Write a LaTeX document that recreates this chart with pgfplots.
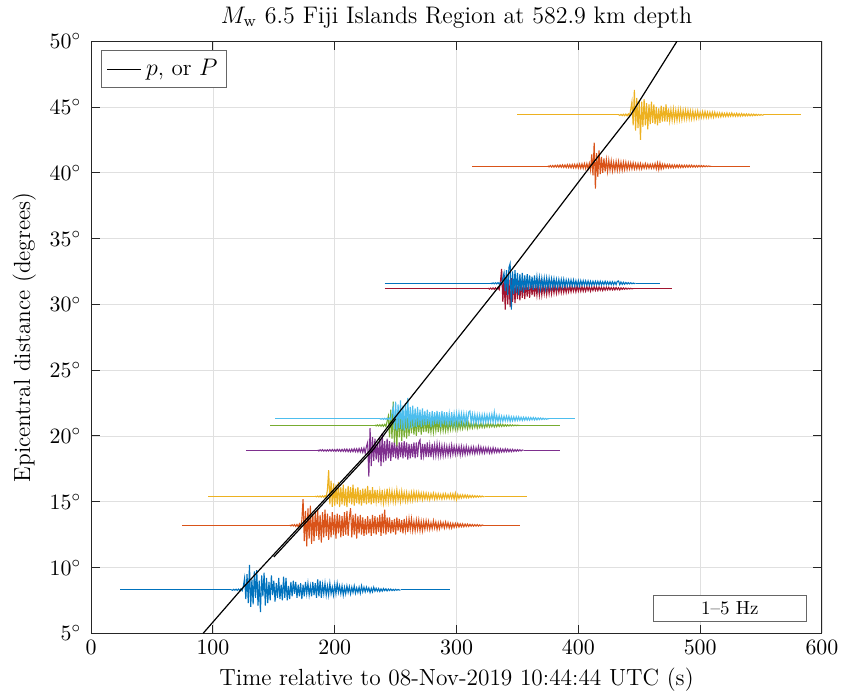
\documentclass[border=0pt]{standalone}
\usepackage{pgfplots}
\usepackage{pgfplotstable}
\pgfplotsset{compat=1.18}
\definecolor{mblue}{rgb}{0,0.447,0.741}
\definecolor{morange}{rgb}{0.850,0.325,0.098}
\definecolor{myellow}{rgb}{0.929,0.694,0.125}
\definecolor{mpurple}{rgb}{0.494,0.184,0.556}
\definecolor{mgreen}{rgb}{0.466,0.674,0.188}
\definecolor{mcyan}{rgb}{0.301,0.745,0.933}
\definecolor{mred}{rgb}{0.635,0.078,0.184}
\definecolor{axgray}{rgb}{0.15,0.15,0.15}
\pgfplotstableset{header=false, row sep=\\, col sep=comma}

% Amplitudes (degrees) sampled every 1 s; first value is 10 s before onset unless noted.
% trace A: blue, 8.3 deg, onset 125 s, table starts at 115 s
\pgfplotstableread{
0.02\\-0.03\\0.04\\-0.02\\0.05\\-0.04\\0.06\\-0.05\\0.08\\-0.06\\
0.3\\0.9\\-0.7\\1.2\\-1.0\\1.9\\-1.3\\0.8\\-1.1\\1.4\\
-0.6\\1.5\\-1.2\\0.7\\-1.7\\1.1\\-0.5\\1.3\\-1.2\\0.9\\
-1.0\\0.6\\-0.8\\1.1\\-0.4\\0.7\\-0.9\\0.5\\-0.6\\0.9\\
-0.7\\0.4\\-0.8\\1.0\\-0.6\\0.9\\-0.8\\0.3\\-0.7\\0.6\\
-0.5\\0.7\\-0.3\\0.6\\-0.6\\0.4\\-0.5\\0.5\\-0.7\\0.4\\
-0.5\\0.6\\-0.3\\0.5\\-0.4\\0.3\\-0.5\\0.6\\-0.4\\0.5\\
-0.6\\0.8\\-0.5\\0.7\\-0.6\\0.4\\-0.3\\0.5\\-0.4\\0.3\\
-0.4\\0.5\\-0.3\\0.2\\-0.4\\0.4\\-0.3\\0.5\\-0.2\\0.3\\
-0.3\\0.3\\-0.4\\0.2\\-0.3\\0.3\\-0.2\\0.25\\-0.3\\0.2\\
-0.2\\0.3\\-0.25\\0.15\\-0.2\\0.2\\-0.25\\0.3\\-0.15\\0.2\\
-0.15\\0.2\\-0.1\\0.15\\-0.2\\0.12\\-0.15\\0.2\\-0.1\\0.12\\
-0.1\\0.1\\-0.12\\0.08\\-0.1\\0.1\\-0.06\\0.08\\-0.08\\0.06\\
-0.05\\0.06\\-0.05\\0.04\\-0.05\\0.04\\-0.03\\0.03\\-0.02\\0\\
}\trA

% trace B: orange, 13.2 deg, onset 173 s, starts 163 s
\pgfplotstableread{
0.03\\-0.04\\0.05\\-0.04\\0.06\\-0.08\\0.07\\-0.1\\0.12\\-0.1\\
0.4\\2.0\\-1.2\\1.1\\-1.6\\1.3\\-1.0\\1.5\\-1.4\\0.9\\
-1.2\\1.1\\-0.8\\1.2\\-1.1\\0.8\\-1.3\\1.0\\-0.9\\1.2\\
-0.8\\0.9\\-1.1\\0.7\\-0.9\\1.0\\-0.7\\0.8\\-1.0\\0.9\\
-0.6\\0.8\\-0.9\\0.7\\-0.8\\1.0\\-0.7\\1.1\\-0.8\\0.6\\
1.3\\-0.9\\0.8\\-0.7\\0.9\\-1.0\\0.7\\-0.6\\0.8\\-0.7\\
0.6\\-0.8\\0.5\\-0.7\\0.7\\-0.6\\0.5\\-0.8\\0.8\\-0.6\\
0.7\\-0.7\\0.6\\-0.5\\0.8\\-0.8\\0.9\\-0.6\\1.2\\-0.7\\
0.6\\-0.5\\0.6\\-0.6\\0.4\\-0.5\\0.5\\-0.7\\0.6\\-0.4\\
0.5\\-0.5\\0.4\\-0.6\\0.5\\-0.4\\0.4\\-0.5\\0.5\\-0.3\\
0.5\\-0.4\\0.3\\-0.4\\0.4\\-0.3\\0.4\\-0.4\\0.3\\-0.4\\
0.3\\-0.3\\0.35\\-0.25\\0.3\\-0.3\\0.2\\-0.25\\0.35\\-0.2\\
0.25\\-0.3\\0.2\\-0.25\\0.25\\-0.15\\0.2\\-0.2\\0.25\\-0.15\\
0.2\\-0.2\\0.15\\-0.2\\0.15\\-0.15\\0.15\\-0.12\\0.15\\-0.12\\
0.12\\-0.1\\0.12\\-0.1\\0.1\\-0.08\\0.1\\-0.08\\0.08\\-0.06\\
0.07\\-0.06\\0.06\\-0.05\\0.06\\-0.05\\0.04\\-0.04\\0.03\\0\\
}\trB

% trace C: yellow, 15.4 deg, onset 194 s, starts 184 s
\pgfplotstableread{
0.02\\-0.03\\0.03\\-0.04\\0.04\\-0.05\\0.05\\-0.06\\0.06\\-0.06\\
0.5\\2.0\\-0.6\\1.2\\-0.8\\1.0\\-0.7\\0.9\\-0.6\\1.1\\
-0.8\\0.7\\-0.6\\0.9\\-0.7\\0.6\\-0.8\\0.8\\-0.5\\0.7\\
-0.6\\0.9\\-0.7\\0.6\\-0.5\\0.7\\-0.6\\0.5\\-0.7\\0.6\\
-0.5\\0.6\\-0.6\\0.8\\-0.5\\0.5\\-0.6\\0.7\\-0.5\\0.5\\
-0.4\\0.5\\-0.5\\0.4\\-0.4\\0.5\\-0.5\\0.3\\-0.4\\0.6\\
-0.4\\0.4\\-0.3\\0.4\\-0.4\\0.3\\-0.4\\0.5\\-0.3\\0.3\\
-0.4\\0.4\\-0.3\\0.3\\-0.35\\0.3\\-0.35\\0.25\\-0.3\\0.3\\
-0.3\\0.35\\-0.25\\0.3\\-0.25\\0.3\\-0.2\\0.25\\-0.25\\0.25\\
-0.2\\0.25\\-0.2\\0.2\\-0.25\\0.2\\-0.15\\0.25\\-0.2\\0.2\\
-0.2\\0.2\\-0.15\\0.15\\-0.2\\0.2\\-0.15\\0.2\\-0.15\\0.15\\
-0.15\\0.2\\-0.15\\0.2\\-0.2\\0.25\\-0.25\\0.15\\-0.15\\0.12\\
-0.12\\0.12\\-0.1\\0.12\\-0.1\\0.1\\-0.1\\0.08\\-0.08\\0.08\\
-0.07\\0.06\\-0.06\\0.05\\-0.05\\0.04\\-0.04\\0.03\\-0.02\\0\\
}\trC

% trace D: purple, 18.9 deg, onset 226 s, starts 186 s (40 s of pre-event noise)
\pgfplotstableread{
0.04\\-0.05\\0.05\\-0.04\\0.06\\-0.05\\0.04\\-0.06\\0.05\\-0.05\\
0.06\\-0.06\\0.07\\-0.05\\0.06\\-0.07\\0.08\\-0.06\\0.07\\-0.08\\
0.08\\-0.07\\0.09\\-0.08\\0.1\\-0.09\\0.08\\-0.1\\0.1\\-0.09\\
0.12\\-0.1\\0.12\\-0.12\\0.14\\-0.12\\0.15\\-0.15\\0.18\\-0.2\\
0.3\\0.6\\-2.0\\1.7\\-1.2\\1.0\\-0.8\\0.9\\-0.7\\0.6\\
-0.9\\1.0\\-1.2\\1.3\\-0.9\\0.7\\-0.8\\0.9\\-0.6\\0.7\\
-0.8\\0.6\\-0.5\\0.7\\-0.6\\0.5\\-0.7\\0.6\\-0.5\\0.6\\
-0.6\\0.7\\-0.5\\0.6\\-0.7\\0.5\\-0.6\\0.5\\-0.5\\0.6\\
-0.6\\0.6\\-0.5\\0.6\\0.8\\-0.7\\0.5\\-0.4\\0.5\\-0.5\\
0.6\\-0.5\\0.4\\-0.5\\0.5\\-0.4\\0.4\\-0.4\\0.5\\-0.4\\
0.4\\-0.4\\0.35\\-0.4\\0.35\\-0.35\\0.3\\-0.35\\0.3\\-0.35\\
0.4\\-0.3\\0.3\\-0.3\\0.3\\-0.25\\0.3\\-0.35\\0.3\\-0.3\\
0.25\\-0.3\\0.3\\-0.25\\0.2\\-0.25\\0.25\\-0.2\\0.25\\-0.25\\
0.2\\-0.2\\0.3\\-0.2\\0.25\\-0.2\\0.2\\-0.2\\0.2\\-0.15\\
0.2\\-0.2\\0.15\\-0.2\\0.2\\-0.15\\0.15\\-0.15\\0.12\\-0.15\\
0.12\\-0.12\\0.1\\-0.12\\0.12\\-0.1\\0.1\\-0.1\\0.08\\-0.1\\
0.08\\-0.08\\0.06\\-0.07\\0.06\\-0.05\\0.05\\-0.04\\0.03\\0\\
}\trD

% trace E: green, 20.8 deg, onset 243 s, starts 233 s
\pgfplotstableread{
0.03\\-0.04\\0.04\\-0.05\\0.05\\-0.06\\0.06\\-0.07\\0.08\\-0.08\\
0.3\\0.7\\-0.9\\1.2\\-1.0\\1.8\\-1.3\\1.0\\-1.6\\1.1\\
-0.9\\1.0\\-1.2\\0.8\\-0.9\\0.7\\-1.0\\0.6\\-0.8\\0.7\\
-0.6\\0.8\\-0.7\\0.5\\-0.8\\0.6\\-0.5\\0.6\\-0.7\\0.5\\
-0.5\\0.6\\-0.5\\0.5\\-0.6\\0.4\\-0.5\\0.4\\-0.5\\0.4\\
-0.4\\0.5\\-0.5\\0.4\\-0.4\\0.4\\-0.4\\0.3\\-0.4\\0.3\\
-0.4\\0.3\\-0.3\\0.35\\-0.3\\0.3\\-0.3\\0.25\\-0.3\\0.3\\
-0.25\\0.25\\-0.25\\0.2\\-0.2\\0.25\\-0.25\\0.2\\-0.2\\0.2\\
-0.2\\0.2\\-0.15\\0.2\\-0.2\\0.15\\-0.15\\0.15\\-0.15\\0.15\\
-0.15\\0.12\\-0.12\\0.15\\-0.12\\0.12\\-0.1\\0.1\\-0.12\\0.1\\
-0.1\\0.1\\-0.08\\0.1\\-0.08\\0.08\\-0.07\\0.06\\-0.06\\0.05\\
-0.05\\0.05\\-0.04\\0.04\\-0.03\\0.03\\-0.02\\0.02\\-0.01\\0\\
}\trE

% trace F: cyan, 21.3 deg, onset 247 s, starts 237 s
\pgfplotstableread{
0.02\\-0.03\\0.03\\-0.04\\0.04\\-0.04\\0.05\\-0.05\\0.06\\-0.06\\
0.4\\0.9\\-0.8\\1.3\\-0.9\\1.1\\-0.7\\1.4\\-0.8\\1.0\\
-0.9\\1.2\\-0.7\\1.6\\-0.8\\0.9\\-0.7\\1.0\\-0.6\\0.8\\
-0.6\\0.9\\-0.5\\0.7\\-0.6\\0.8\\-0.5\\0.6\\-0.5\\0.7\\
-0.4\\0.5\\-0.6\\0.6\\-0.5\\0.5\\-0.4\\0.6\\-0.4\\0.5\\
-0.6\\0.6\\-0.4\\0.5\\-0.5\\0.5\\-0.4\\0.4\\-0.5\\0.5\\
-0.4\\0.4\\-0.4\\0.4\\-0.35\\0.45\\-0.3\\0.4\\-0.3\\0.4\\
-0.35\\0.35\\-0.3\\0.5\\0.6\\-0.3\\0.35\\-0.3\\0.35\\-0.3\\
0.3\\-0.3\\0.3\\-0.25\\0.3\\-0.3\\0.3\\-0.25\\0.3\\-0.25\\
0.3\\-0.2\\0.35\\-0.25\\0.5\\-0.25\\0.25\\-0.2\\0.25\\-0.2\\
0.2\\-0.2\\0.2\\-0.15\\0.2\\-0.15\\0.2\\-0.2\\0.15\\-0.15\\
0.15\\-0.15\\0.15\\-0.12\\0.15\\-0.12\\0.12\\-0.12\\0.12\\-0.1\\
0.12\\-0.1\\0.1\\-0.1\\0.1\\-0.08\\0.1\\-0.08\\0.08\\-0.08\\
0.07\\-0.06\\0.06\\-0.05\\0.05\\-0.04\\0.03\\-0.03\\0.02\\0\\
}\trF

% trace G: red, 31.2 deg, onset 336 s, starts 326 s
\pgfplotstableread{
0.03\\-0.04\\0.04\\-0.05\\0.05\\-0.06\\0.06\\-0.07\\0.08\\-0.08\\
0.5\\1.5\\-1.0\\0.8\\-1.6\\1.0\\-1.2\\0.7\\-1.4\\0.8\\
-1.0\\0.6\\-1.1\\0.7\\-0.8\\0.6\\-0.9\\0.5\\-0.7\\0.6\\
-0.8\\0.5\\-0.6\\0.4\\-0.7\\0.5\\-0.5\\0.4\\-0.6\\0.4\\
-0.5\\0.4\\-0.5\\0.35\\-0.5\\0.3\\-0.4\\0.3\\-0.45\\0.35\\
-0.4\\0.3\\-0.4\\0.3\\-0.35\\0.3\\-0.35\\0.25\\-0.3\\0.25\\
-0.3\\0.25\\-0.3\\0.2\\-0.3\\0.2\\-0.25\\0.2\\-0.25\\0.2\\
-0.2\\0.2\\-0.25\\0.2\\-0.2\\0.2\\-0.2\\0.15\\-0.2\\0.15\\
-0.2\\0.15\\-0.15\\0.15\\-0.2\\0.12\\-0.15\\0.15\\-0.15\\0.12\\
-0.15\\0.12\\-0.12\\0.1\\-0.15\\0.1\\-0.12\\0.1\\-0.1\\0.1\\
-0.1\\0.08\\-0.1\\0.08\\-0.1\\0.08\\-0.08\\0.06\\-0.1\\0.06\\
-0.06\\0.05\\-0.05\\0.04\\-0.04\\0.03\\-0.03\\0.02\\-0.02\\0\\
}\trG

% trace H: blue, 31.6 deg, onset 338 s, starts 328 s
\pgfplotstableread{
0.02\\-0.03\\0.03\\-0.04\\0.04\\-0.04\\0.05\\-0.05\\0.06\\-0.06\\
0.4\\0.8\\-0.6\\1.0\\-0.9\\1.2\\1.5\\-2.0\\0.9\\-0.8\\
1.0\\-0.7\\0.8\\-0.9\\0.7\\-0.6\\0.8\\-0.7\\0.6\\-0.5\\
0.7\\-0.5\\0.6\\-0.4\\0.5\\-0.5\\0.6\\-0.4\\0.5\\-0.4\\
0.45\\-0.4\\0.4\\-0.35\\0.4\\-0.4\\0.4\\-0.35\\0.4\\-0.3\\
0.35\\-0.3\\0.35\\-0.3\\0.3\\-0.3\\0.3\\-0.25\\0.3\\-0.25\\
0.3\\-0.25\\0.25\\-0.2\\0.25\\-0.2\\0.25\\-0.2\\0.25\\-0.2\\
0.2\\-0.2\\0.2\\-0.2\\0.2\\-0.15\\0.2\\-0.15\\0.18\\-0.15\\
0.18\\-0.15\\0.15\\-0.15\\0.15\\-0.12\\0.15\\-0.12\\0.15\\-0.12\\
0.15\\-0.12\\0.12\\-0.1\\0.15\\-0.1\\0.12\\-0.1\\0.12\\-0.1\\
0.12\\-0.1\\0.1\\-0.1\\0.15\\0.18\\-0.1\\0.1\\-0.08\\0.08\\
-0.07\\0.06\\-0.05\\0.05\\-0.04\\0.04\\-0.03\\0.02\\-0.02\\0\\
}\trH

% trace I: orange, 40.5 deg, onset 410 s, starts 375 s (35 s of pre-event noise)
\pgfplotstableread{
0.04\\-0.05\\0.05\\-0.06\\0.06\\-0.07\\0.07\\-0.06\\0.08\\-0.08\\
0.09\\-0.08\\0.1\\-0.09\\0.1\\-0.1\\0.12\\-0.1\\0.12\\-0.12\\
0.13\\-0.12\\0.14\\-0.13\\0.15\\-0.14\\0.16\\-0.15\\0.18\\-0.16\\
0.2\\-0.18\\0.2\\-0.2\\0.22\\
-0.3\\0.9\\-0.7\\1.8\\-1.7\\1.0\\-0.8\\1.2\\-0.6\\0.7\\
-0.5\\0.6\\-0.4\\0.5\\-0.4\\0.45\\-0.3\\0.4\\-0.35\\0.3\\
-0.3\\0.35\\-0.3\\0.35\\-0.3\\0.3\\-0.3\\0.3\\-0.25\\0.3\\
-0.25\\0.25\\-0.2\\0.25\\-0.2\\0.25\\-0.2\\0.2\\-0.2\\0.2\\
-0.2\\0.2\\-0.2\\0.15\\-0.15\\0.2\\-0.15\\0.15\\-0.15\\0.15\\
-0.15\\0.15\\-0.15\\0.2\\-0.2\\0.25\\-0.25\\0.25\\-0.2\\0.15\\
-0.15\\0.15\\-0.12\\0.12\\-0.12\\0.12\\-0.12\\0.1\\-0.12\\0.1\\
-0.1\\0.1\\-0.1\\0.1\\-0.1\\0.08\\-0.1\\0.08\\-0.08\\0.08\\
-0.08\\0.08\\-0.07\\0.08\\-0.07\\0.06\\-0.07\\0.06\\-0.06\\0.06\\
-0.05\\0.05\\-0.05\\0.04\\-0.04\\0.03\\-0.03\\0.02\\-0.02\\0\\
}\trI

% trace J: yellow, 44.4 deg, onset 443 s, starts 433 s
\pgfplotstableread{
0.03\\-0.04\\0.04\\-0.05\\0.05\\-0.06\\0.06\\-0.07\\0.08\\-0.08\\
0.4\\1.0\\-0.8\\1.9\\-1.2\\1.3\\-1.0\\1.1\\-1.9\\1.0\\
-0.9\\1.2\\-0.8\\0.9\\-1.1\\0.8\\-0.7\\1.0\\-0.6\\0.8\\
-0.7\\0.6\\-0.8\\0.5\\-0.6\\0.7\\-0.5\\0.6\\-0.5\\0.8\\
-0.5\\0.5\\-0.45\\0.4\\-0.4\\0.45\\-0.4\\0.35\\-0.4\\0.4\\
-0.35\\0.4\\-0.35\\0.35\\-0.3\\0.35\\-0.3\\0.35\\-0.3\\0.3\\
-0.3\\0.3\\-0.3\\0.25\\-0.25\\0.3\\-0.25\\0.2\\-0.2\\0.25\\
-0.2\\0.25\\-0.2\\0.2\\-0.2\\0.2\\-0.18\\0.2\\-0.18\\0.2\\
-0.15\\0.15\\-0.15\\0.15\\-0.15\\0.15\\-0.12\\0.12\\-0.12\\0.15\\
-0.12\\0.12\\-0.1\\0.15\\-0.1\\0.1\\-0.1\\0.12\\-0.1\\0.1\\
-0.1\\0.1\\-0.08\\0.08\\-0.08\\0.08\\-0.07\\0.07\\-0.07\\0.06\\
-0.06\\0.06\\-0.05\\0.05\\-0.04\\0.04\\-0.03\\0.03\\-0.02\\0\\
}\trJ

\begin{document}
\begin{tikzpicture}
\begin{axis}[
  width=366pt, height=296.5pt, scale only axis,
  xmin=0, xmax=600, ymin=5, ymax=50,
  xtick={0,100,...,600}, ytick={5,10,...,50},
  yticklabel={$\pgfmathprintnumber{\tick}^\circ$},
  yticklabel style={xshift=-1.5pt},
  font=\fontsize{11}{13}\selectfont,
  title={$M_{\mathrm{w}}$ 6.5 Fiji Islands Region at 582.9 km depth},
  title style={font=\fontsize{12}{14}\selectfont, yshift=-3pt},
  xlabel={Time relative to 08-Nov-2019 10:44:44 UTC (s)},
  ylabel={Epicentral distance (degrees)},
  label style={font=\fontsize{11.7}{14}\selectfont},
  grid=major, major grid style={black!12, line width=0.4pt},
  axis line style={axgray, line width=0.5pt},
  tick style={axgray, line width=0.5pt},
  tick align=inside,
  legend style={at={(0.014,0.985)}, anchor=north west, draw=black!60,
    fill=white, font=\fontsize{11.5}{14}\selectfont, inner sep=2.5pt},
  legend cell align=left,
  every axis plot/.append style={line width=0.55pt},
]
% flat parts of each record (before and after the coda)
\addplot[mblue, forget plot] coordinates {(24,8.3) (115,8.3)};
\addplot[mblue, forget plot] coordinates {(254,8.3) (295,8.3)};
\addplot[mblue, forget plot] table[x index=0, y index=0, x expr=\coordindex+115, y expr=\thisrowno{0}+8.3] {\trA};
\addplot[morange, forget plot] coordinates {(75,13.2) (163,13.2)};
\addplot[morange, forget plot] coordinates {(322,13.2) (352,13.2)};
\addplot[morange, forget plot] table[x index=0, y index=0, x expr=\coordindex+163, y expr=\thisrowno{0}+13.2] {\trB};
\addplot[myellow, forget plot] coordinates {(96,15.4) (184,15.4)};
\addplot[myellow, forget plot] coordinates {(323,15.4) (358,15.4)};
\addplot[myellow, forget plot] table[x index=0, y index=0, x expr=\coordindex+184, y expr=\thisrowno{0}+15.4] {\trC};
\addplot[mpurple, forget plot] coordinates {(127,18.9) (186,18.9)};
\addplot[mpurple, forget plot] coordinates {(355,18.9) (385,18.9)};
\addplot[mpurple, forget plot] table[x index=0, y index=0, x expr=\coordindex+186, y expr=\thisrowno{0}+18.9] {\trD};
\addplot[mgreen, forget plot] coordinates {(147,20.8) (233,20.8)};
\addplot[mgreen, forget plot] coordinates {(352,20.8) (385,20.8)};
\addplot[mgreen, forget plot] table[x index=0, y index=0, x expr=\coordindex+233, y expr=\thisrowno{0}+20.8] {\trE};
\addplot[mcyan, forget plot] coordinates {(151,21.3) (237,21.3)};
\addplot[mcyan, forget plot] coordinates {(376,21.3) (397,21.3)};
\addplot[mcyan, forget plot] table[x index=0, y index=0, x expr=\coordindex+237, y expr=\thisrowno{0}+21.3] {\trF};
\addplot[mred, forget plot] coordinates {(241,31.2) (326,31.2)};
\addplot[mred, forget plot] coordinates {(445,31.2) (477,31.2)};
\addplot[mred, forget plot] table[x index=0, y index=0, x expr=\coordindex+326, y expr=\thisrowno{0}+31.2] {\trG};
\addplot[mblue, forget plot] coordinates {(241,31.6) (328,31.6)};
\addplot[mblue, forget plot] coordinates {(447,31.6) (467,31.6)};
\addplot[mblue, forget plot] table[x index=0, y index=0, x expr=\coordindex+328, y expr=\thisrowno{0}+31.6] {\trH};
\addplot[morange, forget plot] coordinates {(313,40.5) (375,40.5)};
\addplot[morange, forget plot] coordinates {(509,40.5) (541,40.5)};
\addplot[morange, forget plot] table[x index=0, y index=0, x expr=\coordindex+375, y expr=\thisrowno{0}+40.5] {\trI};
\addplot[myellow, forget plot] coordinates {(350,44.4) (433,44.4)};
\addplot[myellow, forget plot] coordinates {(552,44.4) (583,44.4)};
\addplot[myellow, forget plot] table[x index=0, y index=0, x expr=\coordindex+433, y expr=\thisrowno{0}+44.4] {\trJ};
% second (P) branch, short and nearly parallel
\addplot[black, line width=0.6pt, forget plot] coordinates {(150,10.8) (175,13.3) (197,15.5) (232,19.0) (250,21.3)};
% p / P travel-time curve
\addplot[black, line width=0.6pt] coordinates {(92,5) (123,8.3) (172,13.2) (194,15.4) (229,18.9) (246,21) (336,31.5) (410,40.5) (443,44.4) (481,50)};
\addlegendentry{$p$, or $P$}
\node[draw=black!60, fill=white, minimum width=77pt, minimum height=13pt,
  inner sep=1pt, font=\fontsize{9.5}{11}\selectfont] at (rel axis cs:0.874,0.042) {1--5 Hz};
\end{axis}
\path ([xshift=-3pt]current axis.outer south west);
\end{tikzpicture}
\end{document}
